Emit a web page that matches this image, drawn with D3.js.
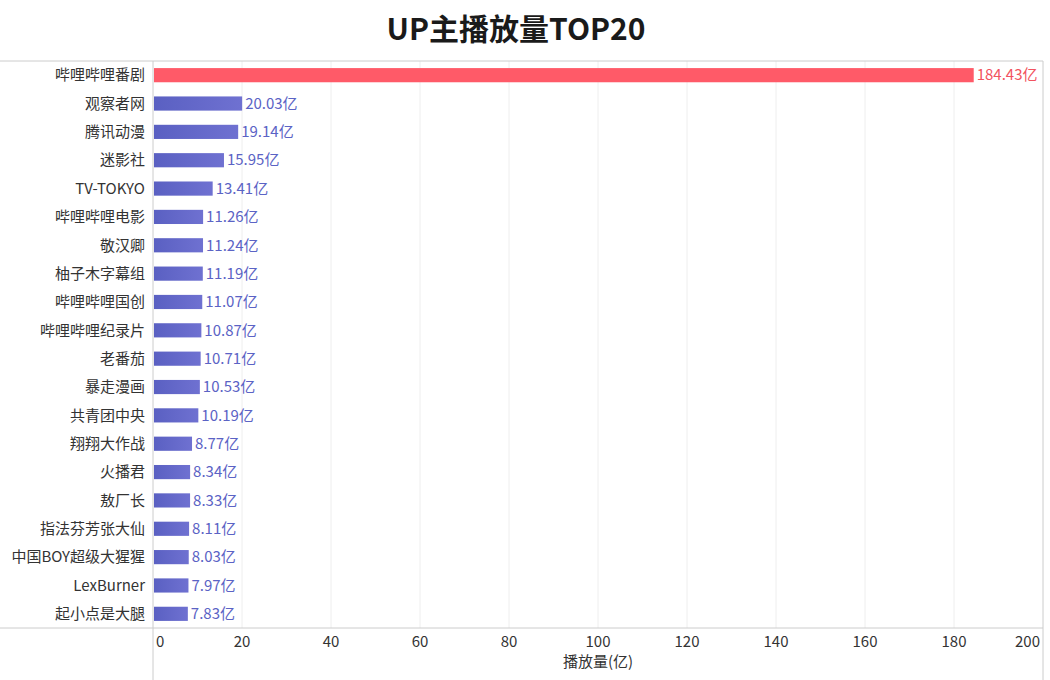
<!DOCTYPE html>
<html><head><meta charset="utf-8">
<script src="https://cdn.jsdelivr.net/npm/d3@7"></script>
<style>body{margin:0;background:#fff;font-family:"Microsoft YaHei","Noto Sans CJK SC",sans-serif;}</style>
</head><body><svg id="c" width="1050" height="680"></svg>
<script>
const names = ["哔哩哔哩番剧","观察者网","腾讯动漫","迷影社","TV-TOKYO","哔哩哔哩电影","敬汉卿","柚子木字幕组","哔哩哔哩国创","哔哩哔哩纪录片","老番茄","暴走漫画","共青团中央","翔翔大作战","火播君","敖厂长","指法芬芳张大仙","中国BOY超级大猩猩","LexBurner","起小点是大腿"];
const plays = [184.43,20.03,19.14,15.95,13.41,11.26,11.24,11.19,11.07,10.87,10.71,10.53,10.19,8.77,8.34,8.33,8.11,8.03,7.97,7.83];
const xTicks = [0,20,40,60,80,100,120,140,160,180,200];
const title = "UP主播放量TOP20";
const xTitle = "播放量(亿)";

const svg = d3.select("#c");
const font = '"Microsoft YaHei","Noto Sans CJK SC",sans-serif';
const FS = 15;
const L=153, R=1043, T=61, B=628;
const x = d3.scaleLinear().domain([0,200]).range([L,R]);
const y = d3.scaleBand().domain(names).range([T,B]).paddingInner(0.5).paddingOuter(0.25);

const defs = svg.append("defs");
const g1 = defs.append("linearGradient").attr("id","gb").attr("x1","0%").attr("x2","100%");
g1.append("stop").attr("offset","0%").attr("stop-color","#5a60c2");
g1.append("stop").attr("offset","100%").attr("stop-color","#6f71d1");

svg.append("text").attr("x",516).attr("y",40).attr("text-anchor","middle")
  .attr("font-size",30).attr("font-weight","bold").attr("fill","#1a1a1a").attr("font-family",font).text(title);

// gridlines
svg.append("g").selectAll("line").data(xTicks.slice(1)).join("line")
  .attr("x1",d=>x(d)).attr("x2",d=>x(d)).attr("y1",T).attr("y2",B)
  .attr("stroke",d=>d===200?"#ccc":"#eee").attr("stroke-width",1);
svg.append("line").attr("x1",R).attr("x2",R).attr("y1",B).attr("y2",680).attr("stroke","#ccc");
svg.append("line").attr("x1",0).attr("x2",R).attr("y1",T).attr("y2",T).attr("stroke","#ccc");
svg.append("line").attr("x1",0).attr("x2",R).attr("y1",B).attr("y2",B).attr("stroke","#ccc");
svg.append("line").attr("x1",L).attr("x2",L).attr("y1",T).attr("y2",680).attr("stroke","#ccc");

// bars
svg.append("g").selectAll("rect").data(names).join("rect")
  .attr("x",x(0)+1).attr("y",d=>y(d)).attr("height",y.bandwidth())
  .attr("width",(d,i)=>x(plays[i])-x(0)-1)
  .attr("fill",(d,i)=>i===0?"#ff5a68":"url(#gb)");

// value labels
svg.append("g").selectAll("text").data(names).join("text")
  .attr("x",(d,i)=>x(plays[i])+3).attr("y",d=>y(d)+y.bandwidth()/2)
  .attr("dy","0.35em").attr("font-size",FS).attr("font-family",font)
  .attr("fill",(d,i)=>i===0?"#f2535f":"#5b63c5")
  .text((d,i)=>plays[i].toFixed(2)+"亿");

// category labels
svg.append("g").selectAll("text").data(names).join("text")
  .attr("x",145).attr("y",d=>y(d)+y.bandwidth()/2).attr("dy","0.35em")
  .attr("text-anchor","end").attr("font-size",FS).attr("font-family",font).attr("fill","#333")
  .text(d=>d);

// x tick labels
svg.append("g").selectAll("text").data(xTicks).join("text")
  .attr("x",d=>d===0?x(d)+3:(d===200?x(d)-3:x(d)))
  .attr("y",642).attr("dy","0.35em")
  .attr("text-anchor",d=>d===0?"start":(d===200?"end":"middle"))
  .attr("font-size",FS).attr("font-family",font).attr("fill","#333").text(d=>d);

svg.append("text").attr("x",598).attr("y",662).attr("dy","0.35em").attr("text-anchor","middle")
  .attr("font-size",FS).attr("font-family",font).attr("fill","#333").text(xTitle);
</script></body></html>
